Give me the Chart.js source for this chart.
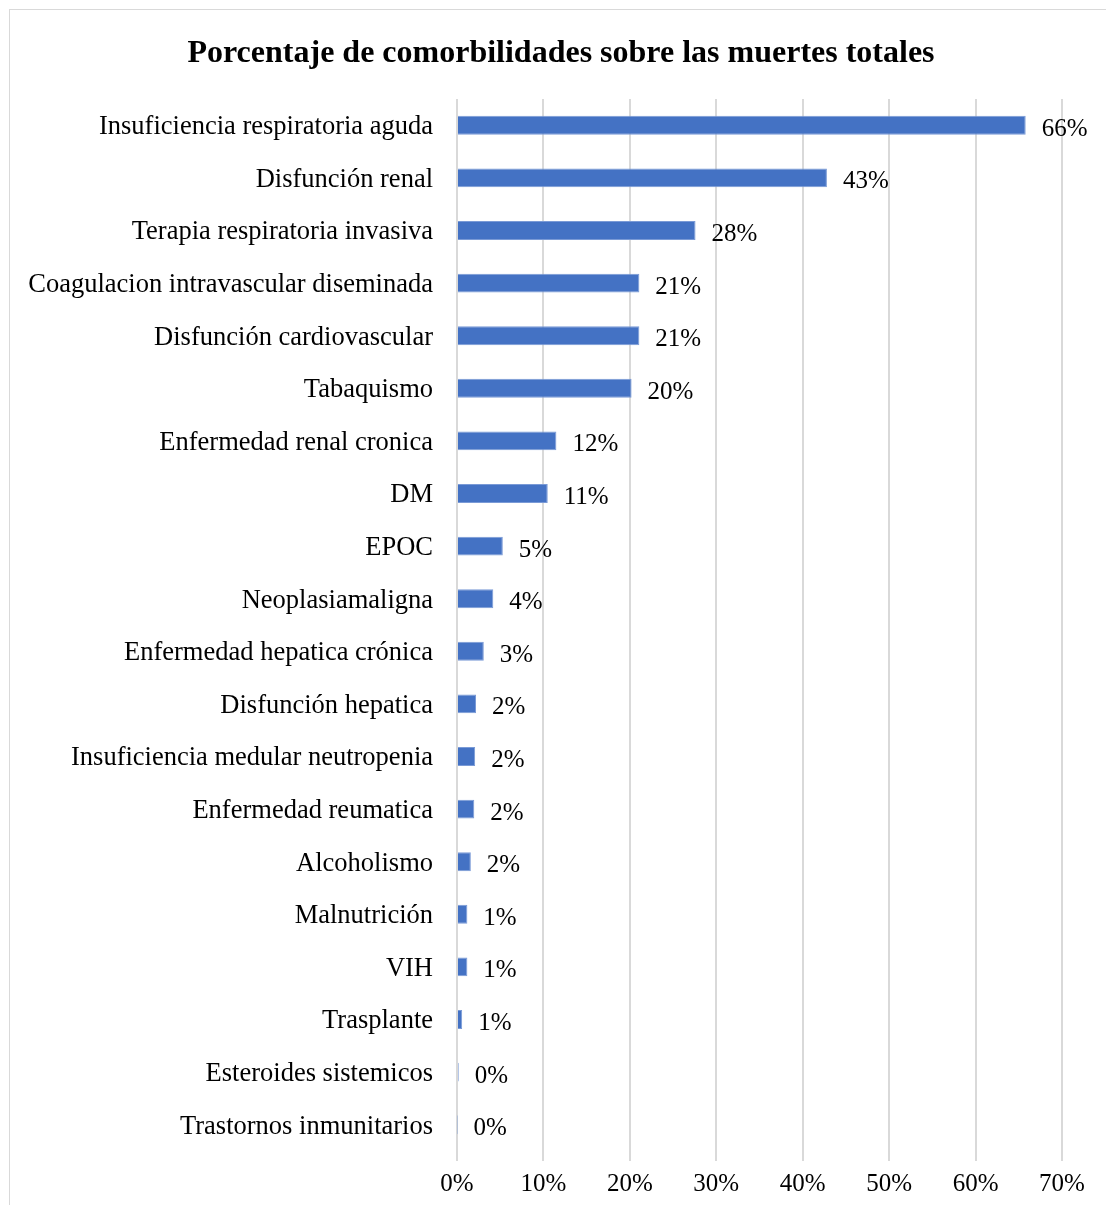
<!DOCTYPE html>
<html lang="es">
<head>
<meta charset="utf-8">
<title>Porcentaje de comorbilidades sobre las muertes totales</title>
<script src="https://cdn.jsdelivr.net/npm/chart.js@4.4.7/dist/chart.umd.min.js"></script>
<style>
  html, body { margin: 0; padding: 0; background: #fff; overflow: hidden; }
  #frame {
    position: absolute; left: 9px; top: 9px; width: 1200px; height: 1300px;
    border-top: 1px solid #d9d9d9; border-left: 1px solid #d9d9d9;
  }
  #wrap { position: absolute; left: 0; top: 0; width: 1106px; height: 1205px; }
</style>
</head>
<body>
<div id="frame"></div>
<div id="wrap"><canvas id="chart"></canvas></div>
<script>
// Comorbilidades, de mayor a menor
const categories = [
  "Insuficiencia respiratoria aguda",
  "Disfunción renal",
  "Terapia respiratoria invasiva",
  "Coagulacion intravascular diseminada",
  "Disfunción cardiovascular",
  "Tabaquismo",
  "Enfermedad renal cronica",
  "DM",
  "EPOC",
  "Neoplasiamaligna",
  "Enfermedad hepatica crónica",
  "Disfunción hepatica",
  "Insuficiencia medular neutropenia",
  "Enfermedad reumatica",
  "Alcoholismo",
  "Malnutrición",
  "VIH",
  "Trasplante",
  "Esteroides sistemicos",
  "Trastornos inmunitarios"
];

// Porcentaje sobre las muertes totales
const percentages = [
  65.8, 42.8, 27.6, 21.1, 21.1, 20.2, 11.5, 10.5, 5.3, 4.2,
  3.1, 2.2, 2.1, 2.0, 1.6, 1.2, 1.2, 0.6, 0.2, 0.05
];

const xTicks = [0, 10, 20, 30, 40, 50, 60, 70];

const chartTitle = "Porcentaje de comorbilidades sobre las muertes totales";

const serif = "'Liberation Serif', 'Times New Roman', serif";
const barColor = "#4472c4";

// Título centrado sobre el marco (no sobre el área de la gráfica)
const frameTitle = {
  id: "frameTitle",
  afterDraw(chart) {
    const ctx = chart.ctx;
    ctx.save();
    ctx.font = "bold 32px " + serif;
    ctx.fillStyle = "#000";
    ctx.textAlign = "center";
    ctx.textBaseline = "middle";
    ctx.fillText(chartTitle, 561, 54);
    ctx.restore();
  }
};

// Etiqueta de valor a la derecha de cada barra
const valueLabels = {
  id: "valueLabels",
  afterDatasetsDraw(chart) {
    const ctx = chart.ctx;
    const meta = chart.getDatasetMeta(0);
    ctx.save();
    ctx.font = "25px " + serif;
    ctx.fillStyle = "#000";
    ctx.textAlign = "left";
    ctx.textBaseline = "middle";
    meta.data.forEach((bar, i) => {
      const text = Math.round(percentages[i]) + "%";
      ctx.fillText(text, bar.x + 16, bar.y + 4);
    });
    ctx.restore();
  }
};

new Chart(document.getElementById("chart"), {
  type: "bar",
  data: {
    labels: categories,
    datasets: [{
      data: percentages,
      backgroundColor: barColor,
      borderColor: "#7a9ad6",
      borderWidth: 1,
      categoryPercentage: 1,
      barPercentage: 0.36
    }]
  },
  options: {
    indexAxis: "y",
    responsive: true,
    maintainAspectRatio: false,
    animation: false,
    layout: { padding: { top: 99, left: 0, right: 44, bottom: 0 } },
    plugins: {
      legend: { display: false },
      tooltip: { enabled: false },
      title: { display: false }
    },
    scales: {
      x: {
        min: 0,
        max: 70,
        afterBuildTicks(scale) {
          scale.ticks = xTicks.map((v) => ({ value: v }));
        },
        afterFit(scale) { scale.height = 54; },
        border: { display: false },
        grid: { color: "#d9d9d9", lineWidth: 2, tickLength: 10 },
        ticks: {
          color: "#000",
          padding: 8,
          font: { family: serif, size: 25 },
          callback: (v) => v + "%"
        }
      },
      y: {
        afterFit(scale) { scale.width = 457; },
        border: { display: false },
        grid: { display: false, drawTicks: false },
        ticks: {
          color: "#000",
          padding: 24,
          labelOffset: 2,
          autoSkip: false,
          font: { family: serif, size: 26.5 }
        }
      }
    }
  },
  plugins: [valueLabels, frameTitle]
});
</script>
</body>
</html>
